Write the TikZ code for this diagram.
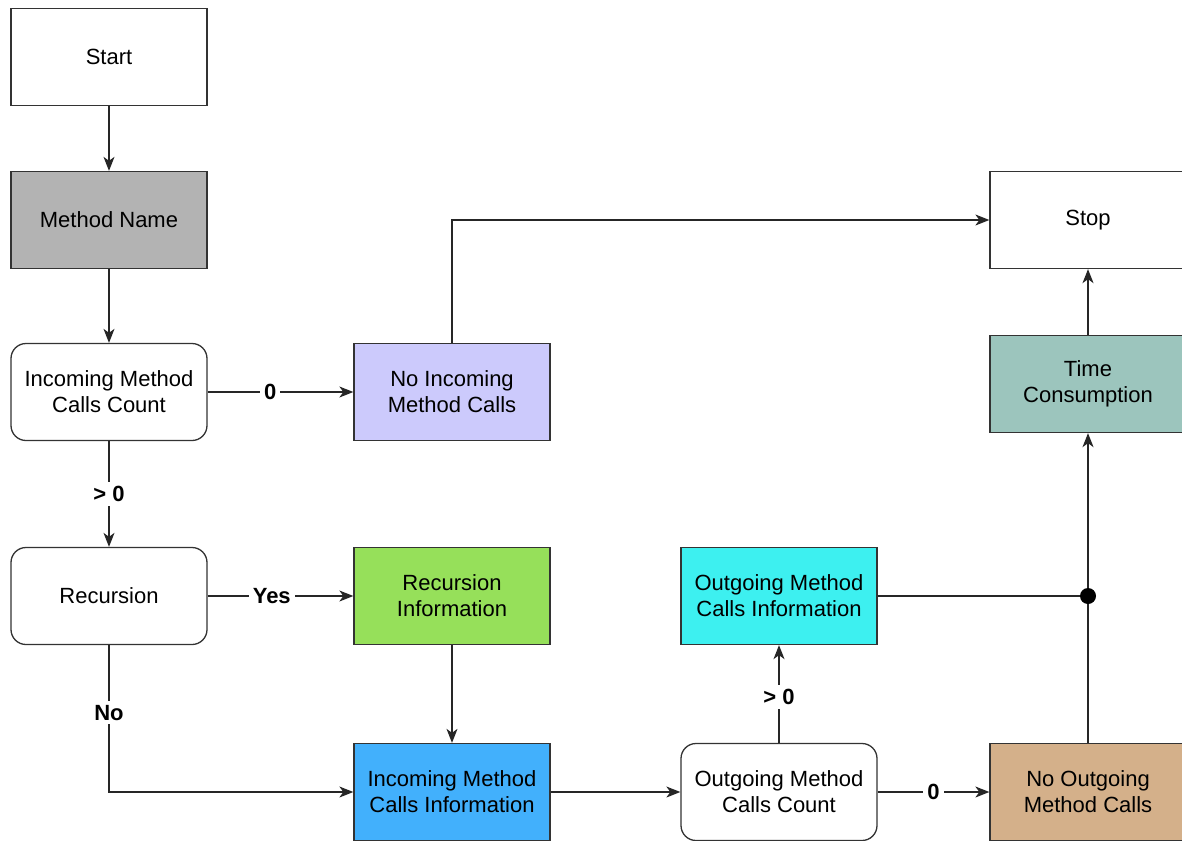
\documentclass[tikz,border=0pt]{standalone}
\usepackage{fontspec}
\setmainfont{Liberation Sans}
\usetikzlibrary{arrows.meta}
\definecolor{bordc}{HTML}{333333}
\definecolor{grayc}{HTML}{B3B3B3}
\definecolor{lavc}{HTML}{CCCAFC}
\definecolor{greenc}{HTML}{96E05A}
\definecolor{bluec}{HTML}{42B0FC}
\definecolor{cyanc}{HTML}{3DF0F0}
\definecolor{tanc}{HTML}{D4B08A}
\definecolor{tealc}{HTML}{9CC5BD}
\tikzset{
  box/.style={draw=bordc, line width=1.3pt, minimum width=196pt, minimum height=97pt,
    align=center, inner sep=2pt, font=\fontsize{22}{26}\selectfont},
  rbox/.style={box, rounded corners=15pt},
  conn/.style={line width=1.3pt, draw=black!85, -{Stealth[length=14pt,width=11pt,inset=4pt]}},
  line/.style={line width=1.3pt, draw=black!85},
  lbl/.style={fill=white, inner sep=4pt, font=\fontsize{22}{26}\selectfont\bfseries}
}
\begin{document}
\begin{tikzpicture}[x=1pt,y=-1pt]
\useasboundingbox (0,0) rectangle (1182,840);
\fill[white] (0,0) rectangle (1182,840);
\node[box] (start) at (109,57) {Start};
\node[box, fill=grayc] (mname) at (109,220) {Method Name};
\node[rbox] (incount) at (109,392) {Incoming Method\\Calls Count};
\node[box, fill=lavc] (noin) at (452,392) {No Incoming\\Method Calls};
\node[rbox] (rec) at (109,596) {Recursion};
\node[box, fill=greenc] (recinfo) at (452,596) {Recursion\\Information};
\node[box, fill=bluec] (ininfo) at (452,792) {Incoming Method\\Calls Information};
\node[rbox] (outcount) at (779,792) {Outgoing Method\\Calls Count};
\node[box, fill=cyanc] (outinfo) at (779,596) {Outgoing Method\\Calls Information};
\node[box, fill=tanc] (noout) at (1088,792) {No Outgoing\\Method Calls};
\node[box, fill=tealc] (time) at (1088,384) {Time\\Consumption};
\node[box] (stop) at (1088,220) {Stop};
\coordinate (dot) at (1088,596);

\draw[conn] (start) -- (mname);
\draw[conn] (mname) -- (incount);
\draw[conn] (incount) -- node[lbl, pos=0.43] {0} (noin);
\draw[conn] (incount) -- node[lbl] {> 0} (rec);
\draw[conn] (rec) -- node[lbl, pos=0.44] {Yes} (recinfo);
\draw[conn] (rec) |- node[lbl, pos=0.23] {No} (ininfo);
\draw[conn] (recinfo) -- (ininfo);
\draw[conn] (noin.north) |- (stop.west);
\draw[conn] (ininfo) -- (outcount);
\draw[conn] (outcount) -- node[lbl, pos=0.47] {> 0} (outinfo);
\draw[conn] (outcount) -- node[lbl] {0} (noout);
\draw[line] (outinfo.east) -- (dot);
\draw[conn] (noout.north) -- (time.south);
\draw[conn] (time) -- (stop);
\fill[black] (dot) circle (8pt);
\end{tikzpicture}
\end{document}
